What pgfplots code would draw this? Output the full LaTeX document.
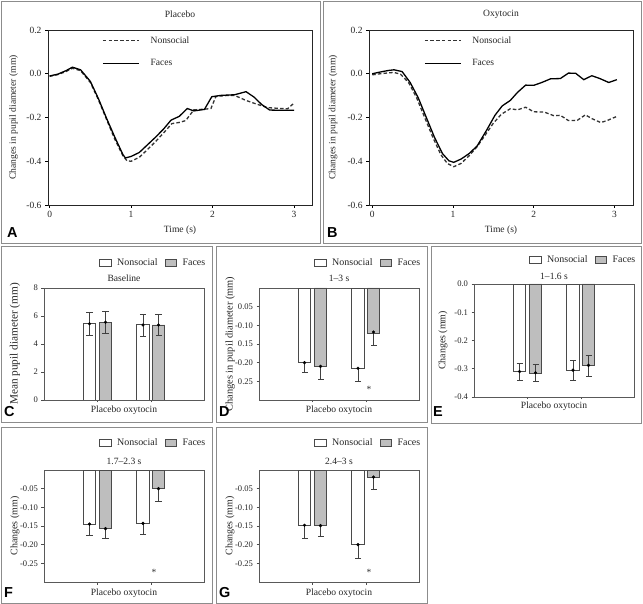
\documentclass[border=0pt]{standalone}
\usepackage{pgfplots}
\pgfplotsset{compat=1.18}
\usepackage{fontspec}
\setmainfont{Liberation Serif}
\newfontfamily\letterfont{Liberation Sans}
\definecolor{framegray}{HTML}{8C8C8C}
\definecolor{facegray}{HTML}{BEBEBE}
\definecolor{edgegray}{HTML}{4A4A4A}
\newcommand{\lblfont}{\fontsize{9.6}{10}\selectfont}
\newcommand{\tkfont}{\fontsize{9.5}{10}\selectfont}
\newcommand{\btkfont}{\fontsize{8.6}{9}\selectfont}
\pgfplotsset{
  every axis title shift=0pt,
  lineax/.style={scale only axis, width=264bp, height=175bp,
    ymin=-0.6, ymax=0.2, ytick={-0.6,-0.4,-0.2,0,0.2},
    yticklabels={-0.6,-0.4,-0.2,0.0,0.2},
    xtick={0,1,2,3}, xticklabels={0,1,2,3},
    xtick pos=bottom, ytick pos=left,
    tick align=outside, major tick length=3bp,
    tick style={black, line width=0.6bp},
    axis line style={line width=0.9bp, black!85},
    ticklabel style={font=\tkfont, text=black!85},
    xlabel={Time (s)}, ylabel={Changes in pupil diameter (mm)},
    label style={font=\lblfont, text=black!85},
    xlabel style={at={(axis description cs:0.5,-0.143)}, anchor=center},
    ylabel style={at={(axis description cs:-0.13,0.5)}, anchor=center},
    title style={at={(axis description cs:0.5,1.091)}, anchor=center, font=\lblfont, text=black!85},
    legend style={draw=none, fill=none, at={(axis description cs:0.205,0.975)}, anchor=north west,
      inner sep=0pt, font=\lblfont, text=black!85, row sep=11bp,
      /tikz/every odd column/.append style={column sep=9bp}},
    legend image code/.code={\draw[#1] (0bp,0bp) -- (36bp,0bp);},
    legend cell align=left,
  },
  barax/.style={scale only axis, width=160bp, height=112bp,
    xmin=0, xmax=160, xtick={53,107}, xticklabels={,},
    xtick pos=bottom, ytick pos=left,
    tick align=outside, major tick length=2.5bp,
    tick style={black!70, line width=0.5bp},
    axis line style={line width=0.6bp, black!65},
    ticklabel style={font=\btkfont, text=black!85},
    xlabel={Placebo oxytocin},
    label style={font=\lblfont, text=black!85},
    xlabel style={at={(axis description cs:0.5,-0.089)}, anchor=center},
    ylabel style={at={(axis description cs:-0.181,0.5)}, anchor=center, font=\fontsize{10}{11}\selectfont},
    title style={at={(axis description cs:0.5,1.089)}, anchor=center, font=\lblfont, text=black!85},
    legend style={draw=none, fill=none, at={(axis description cs:0.344,1.222)}, anchor=west,
      inner sep=0pt, font=\fontsize{10}{11}\selectfont, text=black!85, legend columns=-1,
      /tikz/every odd column/.append style={column sep=4bp},
      /tikz/every even column/.append style={column sep=5bp}},
  },
  barleg/.style={legend image code/.code={\draw[##1, line width=0.5bp] (0bp,-3.6bp) rectangle (11.5bp,3.6bp);}},
  nsbar/.style={ybar, bar width=12.5bp, bar shift=0pt, fill=white, draw=edgegray, line width=0.55bp, barleg},
  fcbar/.style={ybar, bar width=12.5bp, bar shift=0pt, fill=facegray, draw=edgegray, line width=0.55bp, barleg},
  errpts/.style={only marks, mark=*, mark size=1.4bp, black, forget plot,
    error bars/.cd, y explicit, y dir=#1,
    error bar style={line width=0.5bp, black!75},
    error mark options={rotate=90, mark size=3bp, line width=0.5bp, black!75}},
}
\begin{document}
\begin{tikzpicture}
\useasboundingbox (0bp,0bp) rectangle (643bp,604bp);
\fill[white] (0bp,0bp) rectangle (643bp,604bp);
% panel frames
\begin{scope}[draw=framegray, line width=0.8bp]
\draw (1.5bp,361bp) rectangle (320bp,602.5bp);
\draw (323bp,361bp) rectangle (641.5bp,602.5bp);
\draw (1.5bp,182bp) rectangle (212bp,357.5bp);
\draw (216.5bp,182bp) rectangle (427bp,357.5bp);
\draw (431bp,181bp) rectangle (641.5bp,357.5bp);
\draw (1.5bp,1bp) rectangle (212bp,177bp);
\draw (216.5bp,1bp) rectangle (427bp,177bp);
\end{scope}
% ---------- A ----------
\begin{axis}[lineax, at={(48bp,399bp)}, anchor=south west, xmin=-0.02, xmax=3.22, title={Placebo}]
\addplot[black!80, line width=1.3bp, dash pattern=on 3.5bp off 2.2bp] coordinates {
(0,-0.012) (0.1,-0.004) (0.2,0.01) (0.28,0.025) (0.38,0.014) (0.5,-0.04) (0.6,-0.12)
(0.7,-0.21) (0.8,-0.3) (0.9,-0.375) (0.95,-0.398) (1.0,-0.4) (1.1,-0.382) (1.2,-0.347)
(1.3,-0.31) (1.4,-0.27) (1.5,-0.228) (1.6,-0.222) (1.67,-0.214) (1.77,-0.165) (1.9,-0.162)
(1.98,-0.159) (2.04,-0.104) (2.15,-0.1) (2.27,-0.099) (2.41,-0.122) (2.55,-0.14)
(2.68,-0.155) (2.8,-0.158) (2.92,-0.16) (3.0,-0.134)};
\addlegendentry{Nonsocial}
\addplot[black, line width=1.3bp] coordinates {
(0,-0.01) (0.1,-0.002) (0.2,0.014) (0.28,0.03) (0.38,0.018) (0.5,-0.035) (0.6,-0.115)
(0.7,-0.205) (0.8,-0.29) (0.9,-0.37) (0.93,-0.385) (1.0,-0.378) (1.1,-0.36) (1.2,-0.325)
(1.3,-0.29) (1.4,-0.252) (1.49,-0.212) (1.59,-0.195) (1.69,-0.159) (1.77,-0.17)
(1.9,-0.163) (1.99,-0.105) (2.1,-0.099) (2.27,-0.096) (2.41,-0.082) (2.51,-0.107)
(2.6,-0.14) (2.7,-0.166) (2.85,-0.167) (3.0,-0.167)};
\addlegendentry{Faces}
\end{axis}
% ---------- B ----------
\begin{axis}[lineax, at={(369bp,399bp)}, anchor=south west, xmin=-0.04, xmax=3.23, title={Oxytocin},
  ylabel style={at={(axis description cs:-0.136,0.5)}},
  legend style={at={(axis description cs:0.208,0.975)}}]
\addplot[black!80, line width=1.3bp, dash pattern=on 3.5bp off 2.2bp] coordinates {
(0,-0.005) (0.1,0) (0.2,0.004) (0.27,0.006) (0.35,-0.002) (0.45,-0.04) (0.55,-0.11)
(0.65,-0.2) (0.75,-0.29) (0.85,-0.37) (0.93,-0.41) (1.01,-0.425) (1.1,-0.41) (1.2,-0.375)
(1.3,-0.333) (1.4,-0.28) (1.5,-0.226) (1.6,-0.185) (1.71,-0.16) (1.8,-0.165) (1.9,-0.153)
(2.0,-0.174) (2.13,-0.175) (2.25,-0.192) (2.33,-0.19) (2.43,-0.214) (2.54,-0.213)
(2.64,-0.188) (2.72,-0.205) (2.83,-0.223) (2.91,-0.214) (3.03,-0.195)};
\addlegendentry{Nonsocial}
\addplot[black, line width=1.3bp] coordinates {
(0,0) (0.1,0.008) (0.2,0.015) (0.27,0.018) (0.37,0.01) (0.47,-0.04) (0.57,-0.11)
(0.67,-0.2) (0.77,-0.29) (0.87,-0.365) (0.95,-0.398) (1.01,-0.405) (1.1,-0.39)
(1.2,-0.365) (1.3,-0.33) (1.42,-0.256) (1.52,-0.19) (1.61,-0.147) (1.71,-0.122)
(1.8,-0.085) (1.9,-0.052) (2.0,-0.053) (2.1,-0.04) (2.21,-0.023) (2.33,-0.022)
(2.43,0.003) (2.52,0.002) (2.62,-0.027) (2.72,-0.009) (2.82,-0.022) (2.93,-0.04) (3.03,-0.027)};
\addlegendentry{Faces}
\end{axis}
% ---------- C ----------
\begin{axis}[barax, at={(44bp,204bp)}, anchor=south west, ymin=0, ymax=8,
  ytick={0,2,4,6,8}, yticklabels={0,2,4,6,8},
  title={Baseline}, ylabel={Mean pupil diameter (mm)},
  ylabel style={font=\fontsize{11.3}{12}\selectfont}]
\addplot[nsbar] coordinates {(45.5,5.45) (99,5.38)};
\addlegendentry{Nonsocial}
\addplot[fcbar] coordinates {(61.5,5.53) (114.5,5.36)};
\addlegendentry{Faces}
\addplot[errpts=both] coordinates {(45.5,5.45) +- (0,0.8) (61.5,5.55) +- (0,0.77) (99,5.36) +- (0,0.8) (114.5,5.36) +- (0,0.73)};
\end{axis}
% ---------- D ----------
\begin{axis}[barax, at={(259bp,204bp)}, anchor=south west, ymin=-0.3, ymax=0,
  ytick={-0.25,-0.2,-0.15,-0.1,-0.05}, yticklabels={0.25,-0.20,0.15,-0.10,0.05},
  title={1--3 s}, ylabel={Changes in pupil diameter (mm)},
  ylabel style={font=\fontsize{10.4}{11}\selectfont}]
\addplot[nsbar] coordinates {(45.5,-0.2) (99,-0.215)};
\addlegendentry{Nonsocial}
\addplot[fcbar] coordinates {(61.5,-0.21) (114.5,-0.12)};
\addlegendentry{Faces}
\addplot[errpts=minus] coordinates {(45.5,-0.2) +- (0,0.025) (61.5,-0.21) +- (0,0.034) (99,-0.215) +- (0,0.034) (114.5,-0.118) +- (0,0.035)};
\node[font=\lblfont, text=black!80] at (axis cs:110,-0.272) {*};
\end{axis}
% ---------- E ----------
\begin{axis}[barax, at={(474bp,207bp)}, anchor=south west, height=113bp, ymin=-0.4, ymax=0,
  ytick={-0.4,-0.3,-0.2,-0.1,0}, yticklabels={-0.4,-0.3,-0.2,-0.1,0.0},
  title={1--1.6 s}, ylabel={Changes (mm)},
  title style={at={(axis description cs:0.5,1.071)}},
  ylabel style={at={(axis description cs:-0.194,0.5)}},
  xlabel style={at={(axis description cs:0.5,-0.08)}},
  legend style={at={(axis description cs:0.344,1.215)}}]
\addplot[nsbar] coordinates {(45.5,-0.31) (99,-0.305)};
\addlegendentry{Nonsocial}
\addplot[fcbar] coordinates {(61.5,-0.315) (114.5,-0.287)};
\addlegendentry{Faces}
\addplot[errpts=both] coordinates {(45.5,-0.31) +- (0,0.03) (61.5,-0.314) +- (0,0.03) (99,-0.305) +- (0,0.035) (114.5,-0.288) +- (0,0.037)};
\end{axis}
% ---------- F ----------
\begin{axis}[barax, at={(44bp,22bp)}, anchor=south west, ymin=-0.3, ymax=0,
  ytick={-0.25,-0.2,-0.15,-0.1,-0.05}, yticklabels={-0.25,-0.20,-0.15,-0.10,-0.05},
  title={1.7--2.3 s}, ylabel={Changes (mm)},
  title style={at={(axis description cs:0.5,1.08)}},
  xlabel style={at={(axis description cs:0.5,-0.098)}},
  legend style={at={(axis description cs:0.344,1.24)}}]
\addplot[nsbar] coordinates {(45.5,-0.145) (99,-0.143)};
\addlegendentry{Nonsocial}
\addplot[fcbar] coordinates {(61.5,-0.157) (114.5,-0.048)};
\addlegendentry{Faces}
\addplot[errpts=minus] coordinates {(45.5,-0.145) +- (0,0.031) (61.5,-0.157) +- (0,0.027) (99,-0.143) +- (0,0.03) (114.5,-0.05) +- (0,0.033)};
\node[font=\lblfont, text=black!80] at (axis cs:110,-0.275) {*};
\end{axis}
% ---------- G ----------
\begin{axis}[barax, at={(259bp,22bp)}, anchor=south west, ymin=-0.3, ymax=0,
  ytick={-0.25,-0.2,-0.15,-0.1,-0.05}, yticklabels={-0.25,-0.20,-0.15,-0.10,-0.05},
  title={2.4--3 s}, ylabel={Changes (mm)},
  title style={at={(axis description cs:0.5,1.08)}},
  xlabel style={at={(axis description cs:0.5,-0.098)}},
  legend style={at={(axis description cs:0.344,1.24)}}]
\addplot[nsbar] coordinates {(45.5,-0.148) (99,-0.2)};
\addlegendentry{Nonsocial}
\addplot[fcbar] coordinates {(61.5,-0.149) (114.5,-0.02)};
\addlegendentry{Faces}
\addplot[errpts=minus] coordinates {(45.5,-0.148) +- (0,0.034) (61.5,-0.149) +- (0,0.029) (99,-0.2) +- (0,0.036) (114.5,-0.019) +- (0,0.032)};
\node[font=\lblfont, text=black!80] at (axis cs:110,-0.275) {*};
\end{axis}
% panel letters
\begin{scope}[every node/.style={font=\letterfont\bfseries\fontsize{14.5}{15}\selectfont, anchor=base west, inner sep=0pt}]
\node at (7bp,366bp) {A};
\node at (327bp,366bp) {B};
\node at (4bp,187bp) {C};
\node at (219bp,187bp) {D};
\node at (433bp,187bp) {E};
\node at (4bp,7bp) {F};
\node at (219bp,7bp) {G};
\end{scope}
\end{tikzpicture}
\end{document}
